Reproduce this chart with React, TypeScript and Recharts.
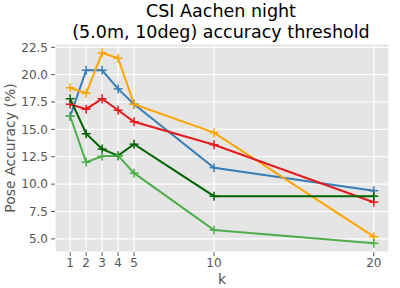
import React from 'react';
import { LineChart, Line, XAxis, YAxis, CartesianGrid } from 'recharts';

const kValues = [1, 2, 3, 4, 5, 10, 20];
const blueSeries = [16.2, 20.4, 20.4, 18.7, 17.3, 11.5, 9.4];
const orangeSeries = [18.8, 18.3, 22.0, 21.5, 17.3, 14.7, 5.2];
const redSeries = [17.3, 16.85, 17.8, 16.75, 15.7, 13.6, 8.35];
const darkGreenSeries = [17.8, 14.6, 13.2, 12.6, 13.65, 8.9, 8.9];
const lightGreenSeries = [16.2, 12.0, 12.55, 12.6, 11.0, 5.8, 4.6];
const xTicks = [1, 2, 3, 4, 5, 10, 20];
const yTicks = [5, 7.5, 10, 12.5, 15, 17.5, 20, 22.5];

const data = kValues.map((k, i) => ({
  k,
  blue: blueSeries[i],
  orange: orangeSeries[i],
  red: redSeries[i],
  dgreen: darkGreenSeries[i],
  lgreen: lightGreenSeries[i],
}));

const series = [
  { key: 'blue', color: '#377eb8' },
  { key: 'orange', color: '#ffa500' },
  { key: 'red', color: '#e41a1c' },
  { key: 'dgreen', color: '#006400' },
  { key: 'lgreen', color: '#4daf4a' },
];

const FONT = '"DejaVu Sans", sans-serif';

const PlusDot = (color: string) => (props: any) => {
  const { cx, cy, index } = props;
  if (cx == null || cy == null) return <g key={index} />;
  return (
    <g key={index}>
      <line x1={cx - 4.5} x2={cx + 4.5} y1={cy} y2={cy} stroke={color} strokeWidth={1.5} />
      <line x1={cx} x2={cx} y1={cy - 4.5} y2={cy + 4.5} stroke={color} strokeWidth={1.5} />
    </g>
  );
};

const App: React.FC = () => {
  return (
    <div style={{ position: 'absolute', left: 0, top: 0, width: 400, height: 288, background: '#fff', fontFamily: FONT }}>
      <div
        style={{
          position: 'absolute',
          left: 21,
          width: 400,
          top: 1,
          textAlign: 'center',
          fontSize: 17.5,
          lineHeight: '21px',
          color: '#000',
        }}
      >
        CSI Aachen night
        <br />
        (5.0m, 10deg) accuracy threshold
      </div>
      <div
        style={{
          position: 'absolute',
          left: 10,
          top: 148,
          transform: 'translate(-50%, -50%) rotate(-90deg)',
          whiteSpace: 'nowrap',
          fontSize: 14,
          color: '#555',
        }}
      >
        Pose Accuracy (%)
      </div>
      <div
        style={{
          position: 'absolute',
          left: 202,
          width: 40,
          top: 271,
          textAlign: 'center',
          fontSize: 14,
          lineHeight: '16px',
          color: '#555',
        }}
      >
        k
      </div>
      <LineChart width={400} height={288} data={data} margin={{ top: 44, right: 11, left: 0, bottom: 0 }}>
        <CartesianGrid fill="#E5E5E5" stroke="#ffffff" strokeWidth={1.2} />
        <XAxis
          dataKey="k"
          type="number"
          domain={[0.05, 20.95]}
          ticks={xTicks}
          allowDataOverflow
          height={36}
          axisLine={false}
          tickLine={{ stroke: '#555' }}
          tickSize={4}
          tickMargin={2}
          tick={{ fill: '#555', fontSize: 12, fontFamily: FONT }}
        />
        <YAxis
          type="number"
          domain={[3.8, 22.8]}
          ticks={yTicks}
          allowDataOverflow
          width={55}
          axisLine={false}
          tickLine={{ stroke: '#555' }}
          tickSize={4}
          tickMargin={3}
          tickFormatter={(v: number) => v.toFixed(1)}
          tick={{ fill: '#555', fontSize: 12, fontFamily: FONT }}
        />
        {series.map((s) => (
          <Line
            key={s.key}
            type="linear"
            dataKey={s.key}
            stroke={s.color}
            strokeWidth={2}
            dot={PlusDot(s.color)}
            activeDot={false}
            isAnimationActive={false}
          />
        ))}
      </LineChart>
    </div>
  );
};

export default App;
